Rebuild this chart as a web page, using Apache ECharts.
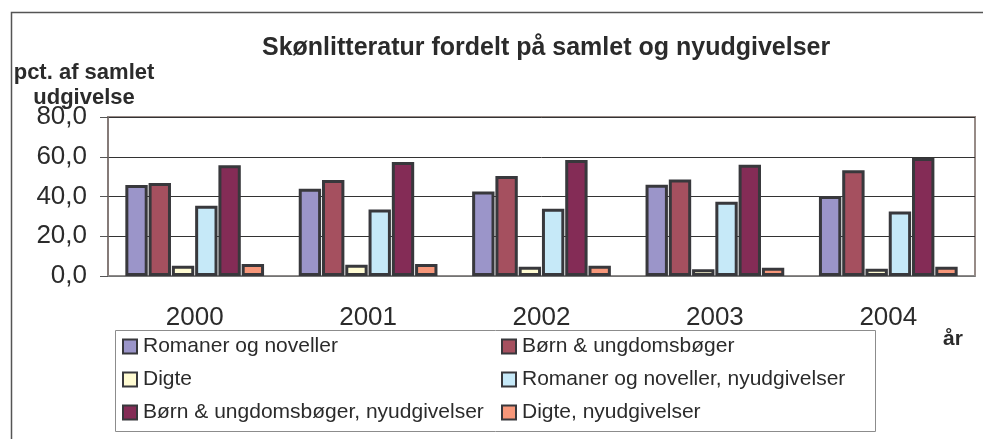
<!DOCTYPE html>
<html>
<head>
<meta charset="utf-8">
<title>Skønlitteratur</title>
<script src="https://cdn.jsdelivr.net/npm/echarts@6/dist/echarts.min.js"></script>
<style>
  html, body { margin: 0; padding: 0; background: #fff; }
  #chart { width: 983px; height: 439px; }
</style>
</head>
<body>
<div id="chart"></div>
<script>
// år på x-aksen
const years = ['2000', '2001', '2002', '2003', '2004']

// pct. af samlet udgivelse
const romaner = [45.8, 43.9, 42.5, 45.9, 40.2]
const boern = [46.8, 48.3, 50.3, 48.5, 53.2]
const digte = [5.1, 5.6, 4.6, 3.4, 3.7]
const romanerNy = [35.3, 33.4, 33.8, 37.3, 32.4]
const boernNy = [55.7, 57.4, 58.4, 56.0, 59.4]
const digteNy = [6.1, 6.1, 5.1, 4.1, 4.6]

const seriesNames = [
  'Romaner og noveller',
  'Børn & ungdomsbøger',
  'Digte',
  'Romaner og noveller, nyudgivelser',
  'Børn & ungdomsbøger, nyudgivelser',
  'Digte, nyudgivelser'
]
const seriesData = [romaner, boern, digte, romanerNy, boernNy, digteNy]
const seriesColors = ['#9b95c9', '#a5505f', '#fffbd2', '#c6e9f8', '#842c56', '#f7977a']

const font = "'Liberation Sans', Arial, sans-serif"
const textColor = '#2b2b2b'

const chart = echarts.init(document.getElementById('chart'))

const option = {
  animation: false,
  backgroundColor: '#fff',
  textStyle: { fontFamily: font },
  title: [
    {
      text: 'Skønlitteratur fordelt på samlet og nyudgivelser',
      left: 262,
      top: 36,
      padding: 0,
      textStyle: { fontSize: 25, fontWeight: 'bold', color: textColor, fontFamily: font }
    },
    // aksetitel for x-aksen
    {
      text: 'år',
      left: 943,
      top: 329,
      padding: 0,
      textStyle: { fontSize: 21, fontWeight: 'bold', color: textColor, fontFamily: font }
    }
  ],
  // to kolonner i forklaringen
  legend: [
    {
      orient: 'vertical',
      left: 122,
      top: 336,
      padding: 0,
      itemGap: 12,
      itemWidth: 14,
      itemHeight: 14,
      icon: 'rect',
      data: [seriesNames[0], seriesNames[2], seriesNames[4]],
      textStyle: { fontSize: 21, color: textColor, fontFamily: font, padding: [0, 0, 0, 1] }
    },
    {
      orient: 'vertical',
      left: 501,
      top: 336,
      padding: 0,
      itemGap: 12,
      itemWidth: 14,
      itemHeight: 14,
      icon: 'rect',
      data: [seriesNames[1], seriesNames[3], seriesNames[5]],
      textStyle: { fontSize: 21, color: textColor, fontFamily: font, padding: [0, 0, 0, 1] }
    }
  ],
  grid: {
    left: 108,
    right: 8,
    top: 117,
    bottom: 163,
    show: true,
    borderColor: '#978b87',
    borderWidth: 2
  },
  xAxis: {
    type: 'category',
    data: years,
    axisLine: { lineStyle: { color: '#8a8a8a', width: 1.5 } },
    axisTick: { length: 7, lineStyle: { color: '#777' } },
    axisLabel: { fontSize: 26, color: textColor, margin: 29 }
  },
  yAxis: {
    type: 'value',
    min: 0,
    max: 80,
    interval: 20,
    name: 'pct. af samlet\nudgivelse',
    nameLocation: 'end',
    nameGap: 7,
    nameMoveOverlap: false,
    nameTextStyle: {
      fontSize: 22,
      fontWeight: 'bold',
      color: textColor,
      align: 'center',
      verticalAlign: 'bottom',
      lineHeight: 25,
      padding: [0, 48, 0, 0]
    },
    axisLine: { show: true, lineStyle: { color: '#7f7673', width: 1.5 } },
    axisTick: { show: true, inside: false, length: 8, lineStyle: { color: '#555' } },
    axisLabel: {
      fontSize: 26,
      color: textColor,
      margin: 21,
      formatter: v => v.toFixed(1).replace('.', ',')
    },
    splitLine: { lineStyle: { color: '#333', width: 1 } }
  },
  series: seriesNames.map((name, i) => ({
    name: name,
    type: 'bar',
    data: seriesData[i],
    barGap: '4%',
    barCategoryGap: '20%',
    itemStyle: {
      color: seriesColors[i],
      borderColor: '#38383c',
      borderWidth: 3
    }
  })),
  // ramme om hele figuren og om forklaringen
  graphic: [
    {
      type: 'rect',
      left: 9,
      top: 10,
      shape: { width: 1000, height: 500 },
      style: { fill: 'none', stroke: '#555', lineWidth: 1.5 },
      silent: true
    },
    {
      type: 'rect',
      left: 113,
      top: 328,
      shape: { width: 760, height: 101 },
      style: { fill: 'none', stroke: '#8c8c8c', lineWidth: 1 },
      silent: true
    }
  ]
}

chart.setOption(option)
</script>
</body>
</html>
